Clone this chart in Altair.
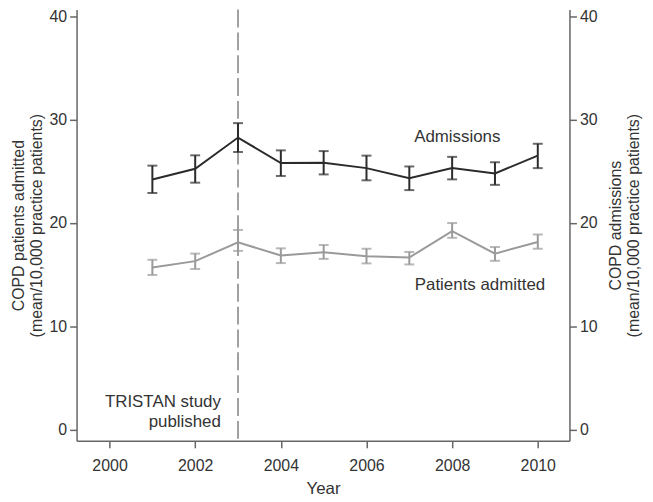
import altair as alt
import pandas as pd

years = [2001, 2002, 2003, 2004, 2005, 2006, 2007, 2008, 2009, 2010]

adm_mean = [24.2, 25.25, 28.27, 25.8, 25.82, 25.31, 24.33, 25.31, 24.8, 26.52]
adm_low = [22.9, 23.9, 26.87, 24.55, 24.7, 24.13, 23.18, 24.22, 23.69, 25.31]
adm_high = [25.55, 26.55, 29.67, 27.03, 26.96, 26.52, 25.47, 26.4, 25.88, 27.67]

pat_mean = [15.69, 16.3, 18.12, 16.84, 17.16, 16.77, 16.65, 19.2, 17.03, 18.15]
pat_low = [14.96, 15.54, 17.29, 16.11, 16.52, 16.08, 15.98, 18.56, 16.33, 17.5]
pat_high = [16.43, 17.03, 19.32, 17.54, 17.86, 17.5, 17.19, 19.99, 17.67, 18.88]

series_names = ["Admissions", "Patients admitted"]
series_colors = ["#2b2b2b", "#9a9a9a"]

x_ticks = [2000, 2002, 2004, 2006, 2008, 2010]
y_ticks = [0, 10, 20, 30, 40]

event_year = 2003
event_label = "TRISTAN study\npublished"

label_text = ["Admissions", "Patients admitted"]
label_x = [2008.12, 2008.65]
label_y = [28.37, 13.94]

FONT = "Liberation Sans"
X_DOM = [1999.23, 2010.74]
Y_DOM = [-1.107, 40.674]

rows = []
for name, m, lo, hi in [
    (series_names[0], adm_mean, adm_low, adm_high),
    (series_names[1], pat_mean, pat_low, pat_high),
]:
    for yr, a, b, c in zip(years, m, lo, hi):
        rows.append({"year": yr, "mean": a, "low": b, "high": c, "series": name})
df = pd.DataFrame(rows)

xs = alt.Scale(domain=X_DOM, nice=False, zero=False)
ys = alt.Scale(domain=Y_DOM, nice=False, zero=False)
color = alt.Color("series:N", scale=alt.Scale(domain=series_names, range=series_colors), legend=None)

x_enc = alt.X(
    "year:Q", scale=xs,
    axis=alt.Axis(values=x_ticks, format="d", title="Year", grid=False,
                  labelFontSize=16, titleFontSize=17, tickSize=7,
                  labelPadding=10, titlePadding=7, labelFlush=False),
)

y_left_axis = alt.Axis(
    values=y_ticks, grid=False, orient="left",
    title=["COPD patients admitted", "(mean/10,000 practice patients)"],
    labelFontSize=16, titleFontSize=16, tickSize=7, labelPadding=3,
    titlePadding=4, titleLineHeight=19,
)
y_right_axis = alt.Axis(
    values=y_ticks, grid=False, orient="right",
    title=["COPD admissions", "(mean/10,000 practice patients)"],
    labelFontSize=16, titleFontSize=16, tickSize=7, labelPadding=3,
    titlePadding=9, titleLineHeight=18, titleAngle=270,
)

base = alt.Chart(df)

lines = base.mark_line(strokeWidth=2).encode(
    x=x_enc, y=alt.Y("mean:Q", scale=ys, axis=y_left_axis), color=color, detail="series:N"
)
bars = base.mark_rule(strokeWidth=2).encode(
    x="year:Q", y=alt.Y("low:Q", scale=ys), y2="high:Q", color=color
)
cap_lo = base.mark_tick(orient="horizontal", size=10, thickness=2).encode(
    x="year:Q", y=alt.Y("low:Q", scale=ys), color=color
)
cap_hi = base.mark_tick(orient="horizontal", size=10, thickness=2).encode(
    x="year:Q", y=alt.Y("high:Q", scale=ys), color=color
)

vline = alt.Chart(pd.DataFrame({"year": [event_year]})).mark_rule(
    color="#a0a0a0", strokeWidth=2, strokeDash=[18, 5]
).encode(x="year:Q")

event_text = alt.Chart(pd.DataFrame({"x": [2002.6], "y": [2.67], "t": [event_label]})).mark_text(
    align="right", baseline="middle", lineBreak="\n", lineHeight=20,
    font=FONT, fontSize=17, color="#333333"
).encode(x="x:Q", y=alt.Y("y:Q", scale=ys), text="t:N")

series_text = alt.Chart(pd.DataFrame({"x": label_x, "y": label_y, "t": label_text})).mark_text(
    align="center", baseline="middle", font=FONT, fontSize=17, color="#333333"
).encode(x="x:Q", y=alt.Y("y:Q", scale=ys), text="t:N")

left = alt.layer(vline, lines, bars, cap_lo, cap_hi, event_text, series_text)

right = alt.Chart(df).mark_point(opacity=0).encode(
    x="year:Q", y=alt.Y("mean:Q", scale=ys, axis=y_right_axis)
)

chart = alt.layer(left, right).resolve_scale(y="independent").properties(
    width=496, height=434,
    autosize=alt.AutoSizeParams(type="none"),
    padding={"left": 69, "top": 0, "right": 76, "bottom": 55},
).configure_view(stroke=None).configure_axis(
    labelFont=FONT, titleFont=FONT, labelColor="#333333", titleColor="#333333",
    titleFontWeight="normal", domainColor="#666666", tickColor="#666666",
    domainWidth=1.5, tickWidth=1.5,
)

chart.save("out.html", embed_options={"renderer": "svg", "actions": False})
